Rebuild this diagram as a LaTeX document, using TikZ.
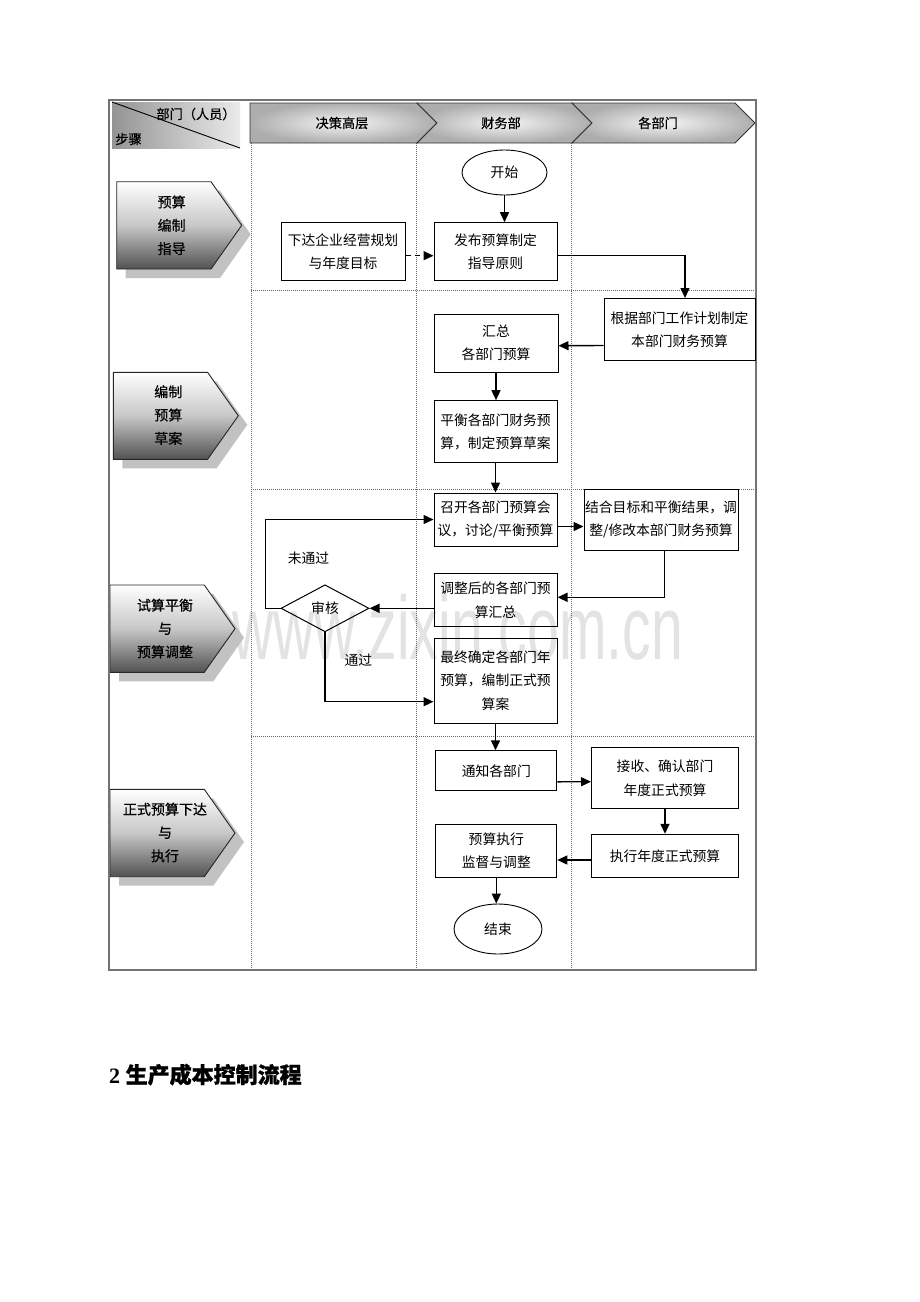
\documentclass[tikz,border=0pt]{standalone}
\usepackage{fontspec}
\setmainfont{Liberation Serif}
\newfontfamily\cjk{Noto Sans CJK SC}
\newfontfamily\cjkm[FakeBold=0.5]{Noto Sans CJK SC}
\newfontfamily\cjkb[FakeBold=0.9]{Noto Sans CJK SC}
\newfontfamily\wmfont{Liberation Sans}
\usetikzlibrary{shapes.geometric,arrows.meta,calc}

\tikzset{
  box/.style={draw, line width=1pt, inner sep=0pt, align=center,
    font=\cjk\fontsize{13.8}{23.5}\selectfont},
  oval/.style={draw, ellipse, line width=0.9pt, inner sep=0pt,
    font=\cjk\fontsize{13.8}{23.5}\selectfont},
  decision/.style={draw, diamond, line width=1pt, inner sep=0pt,
    font=\cjk\fontsize{13.8}{23.5}\selectfont},
  lbl/.style={inner sep=0pt, font=\cjk\fontsize{13.8}{23.5}\selectfont},
  arr/.style={line width=1.4pt, -{Triangle[length=10pt,width=9pt]}},
  lane/.style={black!60, line width=0.6pt, dash pattern=on 0.8pt off 1.2pt},
  hdr/.style={draw=black!80, line width=0.9pt, shading=radial,
    inner color=black!4, outer color=black!32},
  hdrtext/.style={inner sep=0pt, font=\cjkm\fontsize{13.2}{16}\selectfont},
  steptext/.style={inner sep=0pt, align=center, font=\cjkm\fontsize{14}{23.3}\selectfont},
  stepshade/.style={draw=black!85, line width=0.9pt, top color=white,
    bottom color=black!68, middle color=black!22},
  stepshadow/.style={fill=black!24},
}

\newcommand\stepchevron[3]{%
  \fill[stepshadow] ({#1+9},{#2+9}) -- ({#1+103.3},{#2+9}) -- ({#1+134},{(#2+#3)/2+9})
     -- ({#1+103.3},{#3+9}) -- ({#1+9},{#3+9}) -- cycle;
  \path[stepshade] (#1,#2) -- ({#1+94.3},#2) -- ({#1+125},{(#2+#3)/2})
     -- ({#1+94.3},#3) -- (#1,#3) -- cycle;
}

\begin{document}
\begin{tikzpicture}[x=1pt, y=-1pt]
\useasboundingbox (0,0) rectangle (920,1302);
\fill[white] (0,0) rectangle (920,1302);

% watermark
\node[anchor=base west, inner sep=0pt, text=black!11,
  font=\wmfont\fontsize{90}{90}\selectfont] (wm) at (232,659)
  {\scalebox{0.635}[1]{www.zixin.com.cn}};

% lane dividers
\draw[lane] (251,143) -- (251,969);
\draw[lane] (416,143) -- (416,969);
\draw[lane] (571.5,143) -- (571.5,969);
\draw[lane] (251,290) -- (755,290);
\draw[lane] (251,489) -- (755,489);
\draw[lane] (251,736) -- (755,736);

% corner cell
\fill[left color=black!42, right color=black!8] (112,102) rectangle (240,148);
\draw[line width=0.9pt] (112,102) -- (240,148);
\node[hdrtext] (dept) at (196,114) {部门（人员）};
\node[hdrtext] (steps) at (128.5,139) {步骤};

% header chevrons
\path[hdr] (250,103) -- (417,103) -- (437,123) -- (417,143) -- (250,143) -- cycle;
\path[hdr] (417,103) -- (572,103) -- (592,123) -- (572,143) -- (417,143) -- (437,123) -- cycle;
\path[hdr] (572,103) -- (735,103) -- (755,123) -- (735,143) -- (572,143) -- (592,123) -- cycle;
\node[hdrtext] (h1) at (342,123) {决策高层};
\node[hdrtext] (h2) at (501,123) {财务部};
\node[hdrtext] (h3) at (658,123) {各部门};

% step chevrons
\stepchevron{116.7}{181.7}{269}
\node[steptext] (s1) at (171.7,225.3) {预算\\编制\\指导};
\stepchevron{113.3}{372.3}{459.3}
\node[steptext] (s2) at (168.3,415) {编制\\预算\\草案};
\stepchevron{110}{585}{672.3}
\node[steptext] (s3) at (165,628.5) {试算平衡\\与\\预算调整};
\stepchevron{110}{789.3}{876.7}
\node[steptext] (s4) at (165,832.5) {正式预算下达\\与\\执行};

% outer frame
\draw[black!55, line width=1.6pt] (109,100) rectangle (756,970);

% flow nodes
\node[oval, minimum width=85pt, minimum height=45pt] (start) at (504.5,172.5) {开始};
\node[box, minimum width=124pt, minimum height=58pt] (xiada) at (343,251.7) {下达企业经营规划\\与年度目标};
\node[box, minimum width=123pt, minimum height=58pt] (fabu) at (495.5,251.7) {发布预算制定\\指导原则};
\node[box, minimum width=151pt, minimum height=62pt] (genju) at (679.5,329.5) {根据部门工作计划制定\\本部门财务预算};
\node[box, minimum width=124pt, minimum height=58pt] (huizong) at (496,343) {汇总\\各部门预算};
\node[box, minimum width=123pt, minimum height=62pt] (pingheng) at (495.5,431.7) {平衡各部门财务预\\算，制定预算草案};
\node[box, minimum width=123pt, minimum height=53pt] (zhaokai) at (495.5,519.5) {召开各部门预算会\\议，讨论/平衡预算};
\node[box, minimum width=154pt, minimum height=61pt] (jiehe) at (661,519.5) {结合目标和平衡结果，调\\整/修改本部门财务预算};
\node[box, minimum width=123pt, minimum height=53pt] (tiaozheng) at (495.5,600.3) {调整后的各部门预\\算汇总};
\node[decision, minimum width=88pt, minimum height=47pt] (shenhe) at (325,608.3) {审核};
\node[box, minimum width=123pt, minimum height=85pt] (zuizhong) at (495.5,680.5) {最终确定各部门年\\预算，编制正式预\\算案};
\node[box, minimum width=121pt, minimum height=40pt] (tongzhi) at (496.3,770.8) {通知各部门};
\node[box, minimum width=147pt, minimum height=61pt] (jieshou) at (665,778) {接收、确认部门\\年度正式预算};
\node[box, minimum width=147pt, minimum height=43pt] (zhixing) at (665,855.8) {执行年度正式预算};
\node[box, minimum width=121pt, minimum height=53pt] (jiandu) at (496.3,850.7) {预算执行\\监督与调整};
\node[oval, minimum width=88pt, minimum height=50pt] (end) at (498,929) {结束};

\node[lbl] (weitongguo) at (308.5,558) {未通过};
\node[lbl] (tongguo) at (358.3,660) {通过};

% connectors
\draw[arr] (start.south) -- (start.south |- fabu.north);
\draw[arr, dash pattern=on 5pt off 4pt] ($(xiada.east)+(0,4)$) -- ($(fabu.west)+(0,4)$);
\draw[arr] ($(fabu.east)+(0,4)$) -| ($(genju.north)+(5.5,0)$);
\draw[arr] ($(genju.west)+(0,16)$) -- ($(huizong.east)+(0,2.7)$);
\draw[arr] (huizong.south) -- (huizong.south |- pingheng.north);
\draw[arr] (pingheng.south) -- (pingheng.south |- zhaokai.north);
\draw[arr] ($(zhaokai.east)+(0,7)$) -- ($(jiehe.west)+(0,7)$);
\draw[arr] ($(jiehe.south)+(3.3,0)$) |- ($(tiaozheng.east)+(0,-3)$);
\draw[arr] (tiaozheng.west |- shenhe.east) -- (shenhe.east);
\draw[arr] (shenhe.west) -- ++(-15.3,0) |- (zhaokai.west);
\draw[arr] (shenhe.south) |- ($(zuizhong.west)+(0,21.2)$);
\draw[arr] (zuizhong.south) -- (zuizhong.south |- tongzhi.north);
\draw[arr] ($(tongzhi.east)+(0,11)$) -- ($(jieshou.west)+(0,3.7)$);
\draw[arr] (jieshou.south) -- (jieshou.south |- zhixing.north);
\draw[arr] ($(zhixing.west)+(0,4.2)$) -- ($(jiandu.east)+(0,9.3)$);
\draw[arr] (jiandu.south) -- (jiandu.south |- end.north);

% title
\node[anchor=base west, inner sep=0pt] (title) at (109,1083)
  {\fontsize{22}{26}\selectfont\bfseries 2 \cjkb 生产成本控制流程};
\end{tikzpicture}
\end{document}
